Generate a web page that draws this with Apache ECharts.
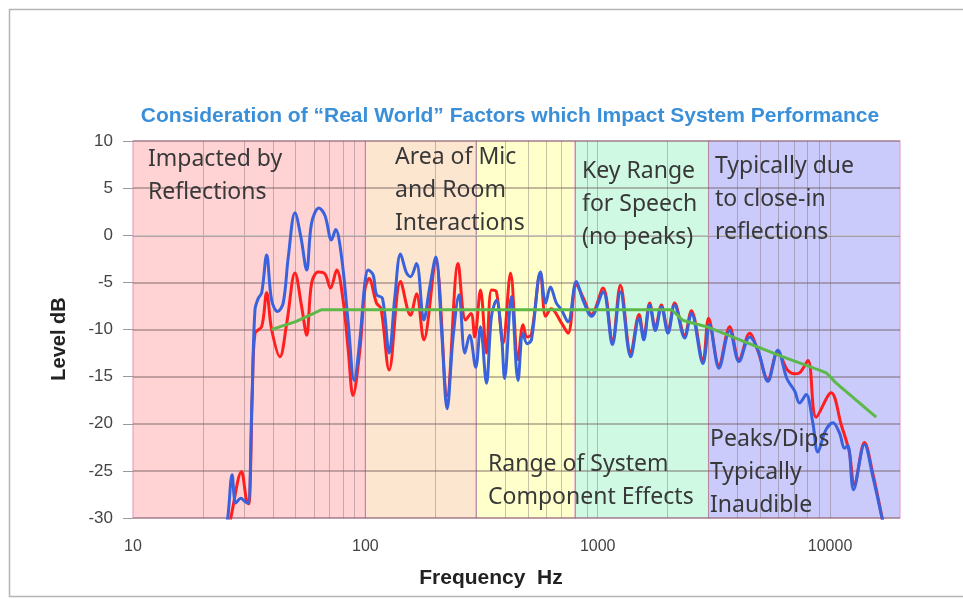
<!DOCTYPE html>
<html><head><meta charset="utf-8">
<script src="https://cdn.jsdelivr.net/npm/echarts@6/dist/echarts.min.js"></script>
<style>html,body{margin:0;padding:0;background:#fff}#c{width:963px;height:599px}</style>
</head><body><div id="c"></div>
<script>
// ---------------- data ----------------
const chartTitle = 'Consideration of \u201CReal World\u201D Factors which Impact System Performance';
const xAxisTitle = 'Frequency  Hz';
const yAxisTitle = 'Level dB';
const xTickLabels = [10, 100, 1000, 10000];
const yTickValues = [-30, -25, -20, -15, -10, -5, 0, 5, 10];
const bandEdges = [10, 100, 300, 800, 3000, 20000];
const gridFreqs = [20,30,40,50,60,70,80,90,100,200,300,400,500,600,700,800,900,1000,2000,3000,4000,5000,6000,7000,8000,9000,10000];
const noteTexts = [
  'Impacted by\nReflections',
  'Area of Mic\nand Room\nInteractions',
  'Key Range\nfor Speech\n(no peaks)',
  'Typically due\nto close-in\nreflections',
  'Range of System\nComponent Effects',
  'Peaks/Dips\nTypically\nInaudible'
];
const redData = [
  [26.0,-31],[26.5,-29.7],[29.3,-25.1],[30.8,-28.1],[31.5,-28.5],[32.6,-17],[33.5,-10.4],[35.8,-9.7],[37.6,-6.1],
  [39.5,-10],[42.9,-12.9],[45.9,-9.3],[49.8,-4],[53.2,-7.6],[55.9,-10.6],[58.7,-5.1],[62.6,-3.9],[67,-4.1],
  [70.8,-5.6],[75.3,-3.7],[80.2,-6.9],[84.4,-12.2],[88.5,-17],[94.7,-12.2],[99.5,-5.8],[103.7,-4.6],
  [111.7,-7.2],[116.8,-7.8],[126.6,-14.3],[141.7,-4.9],[156.4,-8.5],[166,-6.2],[178.5,-11.1],[201,-2.8],
  [224.9,-17],[250.7,-3],[270,-9],[285,-8.3],[295.6,-10.8],[313,-5.8],[332,-12.5],[349,-5.8],[366.6,-6],
  [391,-11.5],[421.6,-4],[454,-13.2],[477,-9.5],[497,-10.8],[518.6,-10.5],[567,-4],[597,-8.6],[631,-7.8],
  [698,-9.3],[745,-10.4],[809,-5.2],[865,-6.6],[940,-8.4],[1055,-5.6],[1157,-11.3],[1252,-5.3],[1387,-12.5],
  [1506,-8.4],[1578,-10.8],[1674,-7.2],[1771,-9.8],[1879,-7.4],[2007,-10.1],[2143,-7.2],[2367,-10.6],
  [2530,-8],[2838,-13.3],[3000,-8.8],[3325,-13.8],[3697,-9.7],[4055,-13.2],[4508,-10.4],[4897,-12.3],
  [5400,-15.3],[5960,-12.3],[6517,-14.2],[7035,-14.7],[7390,-14.6],[8036,-13.3],[8720,-19.3],[10110,-16.7],
  [11170,-20.1],[12100,-23],[12700,-26.5],[14070,-22],[15280,-25.3],[16900,-30.5]
];
const blueData = [
  [25.0,-31],[25.6,-29.9],[26.7,-25.4],[27.7,-28.4],[29.1,-27.9],[30.5,-28.3],[31.3,-28.4],[32.6,-16.4],
  [33.5,-7.9],[34.6,-6.7],[35.8,-6.1],[37.6,-2.1],[39.5,-6.9],[41.9,-8.1],[44.3,-7.2],[46.6,-2.3],[49.8,2.4],
  [52.8,-0.2],[55.9,-3.7],[58.7,1.3],[63.1,2.9],[67,2.1],[71.5,-0.5],[74.5,0.6],[79,-2.3],[84.4,-9.3],
  [89.5,-15.4],[94.7,-11.1],[99.5,-5.1],[102.8,-3.7],[108,-4.2],[111.7,-6.3],[118.5,-6.7],[126.6,-12.5],
  [134,-6.5],[141.7,-2],[150.4,-4],[156.4,-4.4],[166,-3],[178.5,-9],[189.3,-5.5],[201,-2.3],[212.8,-10.1],
  [224.9,-18.4],[238.6,-10.8],[253,-6.3],[268,-12.5],[281,-10.6],[298.6,-14],[313,-9.7],[332,-15.7],
  [349,-8.6],[366.6,-6.9],[385,-10.4],[397.6,-15.2],[425,-6.5],[454,-15.4],[477,-10.4],[497,-11.5],
  [518.6,-11.1],[567,-3.9],[597,-7.2],[626,-5.5],[664,-7.2],[698,-7.9],[745,-9.2],[809,-4.9],[865,-6.9],
  [940,-8.6],[1055,-6],[1157,-11.6],[1252,-6],[1387,-12.9],[1506,-8.8],[1578,-11.1],[1674,-7.4],[1771,-10.1],
  [1879,-7.6],[2007,-10.4],[2143,-7.4],[2367,-10.9],[2530,-8.3],[2838,-13.6],[3030,-9.5],[3325,-14.1],
  [3697,-10.1],[4055,-13.4],[4508,-10.8],[4897,-12.2],[5400,-15.5],[5960,-12.2],[6517,-15.2],[7035,-16.5],
  [7390,-17.8],[7890,-16.9],[8430,-19.9],[8860,-23],[9570,-20.7],[10290,-19.9],[10990,-21],[11540,-22.6],
  [11930,-22.3],[12620,-27],[14070,-22.2],[15280,-25.6],[16900,-30.5]
];
const greenData = [
  [39.5,-10],[49.8,-9.2],[58.7,-8.4],[65,-7.9],[2070,-7.9],[2320,-9.0],[2935,-9.7],[4815,-11.8],
  [6270,-12.9],[9630,-14.6],[10630,-15.7],[13400,-17.8],[15800,-19.3]
];

// ---------------- styles ----------------
const bandColors = ['#ffd2d4', '#fde6cf', '#ffffcb', '#cff9e2', '#cacafb'];
const textFont = '"Noto Sans", "Open Sans", sans-serif';
const labelFont = '"Liberation Sans", Arial, sans-serif';

const chart = echarts.init(document.getElementById('c'), null, {renderer: 'canvas'});

const bandAreas = [];
for (let i = 0; i < bandEdges.length - 1; i++) {
  bandAreas.push([
    {xAxis: bandEdges[i], yAxis: -30, itemStyle: {color: bandColors[i]}},
    {xAxis: bandEdges[i + 1], yAxis: 10}
  ]);
}

const notePos = [[148, 143], [395, 141], [582, 155], [715, 150], [488, 448], [710, 423]];

const graphics = [
  {type: 'rect', shape: {x: 9.5, y: 9.5, width: 970, height: 587}, style: {fill: 'none', stroke: '#b5b5b5', lineWidth: 1.5}, silent: true, z: 0},
  {type: 'text', x: 510, y: 116, style: {text: chartTitle, fill: '#3a8fd9', font: 'bold 21px "Liberation Sans", Arial, sans-serif', textAlign: 'center', textVerticalAlign: 'middle'}, z: 10},
  {type: 'text', x: 491, y: 578, style: {text: xAxisTitle, fill: '#222', font: 'bold 21px "Liberation Sans", Arial, sans-serif', textAlign: 'center', textVerticalAlign: 'middle'}, z: 10},
  {type: 'text', x: 59, y: 339, rotation: Math.PI / 2, style: {text: yAxisTitle, fill: '#222', font: 'bold 20px "Liberation Sans", Arial, sans-serif', textAlign: 'center', textVerticalAlign: 'middle'}, z: 10}
];
noteTexts.forEach((t, i) => {
  graphics.push({type: 'text', x: notePos[i][0], y: notePos[i][1],
    style: {text: t, fill: '#383838', font: '23px ' + textFont, lineHeight: 33, textAlign: 'left', textVerticalAlign: 'top'}, z: 10});
});

const option = {
  animation: false,
  backgroundColor: '#fff',
  grid: {left: 133, right: 63, top: 141, bottom: 81, containLabel: false},
  xAxis: {
    type: 'log', logBase: 10, min: 10, max: 20000, z: 1,
    axisLine: {show: true, lineStyle: {color: '#c4c4c4', width: 1}},
    axisTick: {show: false},
    splitLine: {show: false},
    minorTick: {show: false},
    axisLabel: {
      margin: 21, color: '#444', fontSize: 16, fontFamily: labelFont,
      showMaxLabel: false,
      formatter: v => (xTickLabels.indexOf(Math.round(v)) >= 0 ? String(Math.round(v)) : '')
    }
  },
  yAxis: {
    type: 'value', min: -30, max: 10, interval: 5, z: 1,
    axisLine: {show: false},
    axisTick: {show: true, length: 10, lineStyle: {color: '#9a9a9a'}},
    splitLine: {show: true, lineStyle: {color: 'rgba(105,85,85,0.55)', width: 1.5}},
    axisLabel: {margin: 20, color: '#444', fontSize: 17, fontFamily: labelFont,
      formatter: v => (yTickValues.indexOf(v) >= 0 ? String(v) : '')}
  },
  graphic: graphics,
  series: [
    {
      name: 'Measured (room)', type: 'line', data: redData, smooth: 0.35, showSymbol: false, symbol: 'none',
      lineStyle: {color: '#ff1f1f', width: 3}, z: 2,
      markArea: {silent: true, z: 0, itemStyle: {borderColor: '#e7a2c9', borderWidth: 1.2}, data: bandAreas},
      markLine: {silent: true, z: 1, symbol: 'none', label: {show: false},
        lineStyle: {color: 'rgba(120,100,105,0.4)', width: 1, type: 'solid'},
        data: gridFreqs.map(f => ({xAxis: f}))}
    },
    {
      name: 'Measured (near)', type: 'line', data: blueData, smooth: 0.35, showSymbol: false, symbol: 'none',
      lineStyle: {color: '#3a62dc', width: 3}, z: 3
    },
    {
      name: 'Target', type: 'line', data: greenData, smooth: 0.1, showSymbol: false, symbol: 'none',
      lineStyle: {color: '#5cb94a', width: 3}, z: 4
    }
  ]
};
chart.setOption(option);
</script>
</body></html>
